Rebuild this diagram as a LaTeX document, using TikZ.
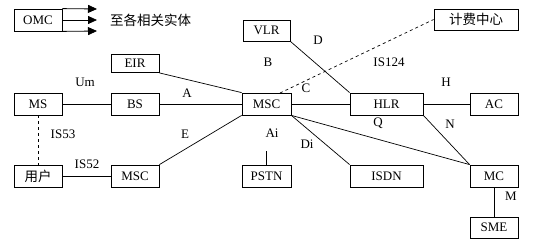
\documentclass[tikz,border=0pt]{standalone}
\usepackage{fontspec}
\setmainfont{Liberation Serif}
\newfontfamily\cjk{Noto Sans CJK SC}
\usetikzlibrary{arrows.meta,calc}
\begin{document}
\begin{tikzpicture}[x=1pt,y=-1pt,
  box/.style={draw, line width=0.8pt, inner sep=0pt, minimum width=48pt, minimum height=22pt, font=\fontsize{13}{13}\selectfont},
  wbox/.style={box, minimum width=73pt},
  conn/.style={line width=0.7pt},
  dconn/.style={line width=0.7pt, dash pattern=on 3pt off 3pt},
  arr/.style={line width=0.8pt, -{Triangle[length=9pt,width=8pt]}},
  lbl/.style={font=\fontsize{13}{13}\selectfont, inner sep=0pt}]
\useasboundingbox (0,0) rectangle (542,249);
% boxes
\node[box] (OMC) at (38,20) {OMC};
\node[box, minimum width=47pt, minimum height=21pt] (VLR) at (266.5,30.5) {VLR};
\node[box, minimum height=18pt] (EIR) at (135,63.5) {EIR};
\node[box] (MS) at (38,104) {MS};
\node[box] (BS) at (135,104) {BS};
\node[box, minimum width=49pt] (MSC) at (266.5,104) {MSC};
\node[wbox] (HLR) at (386.5,104) {HLR};
\node[box] (AC) at (494,104) {AC};
\node[box, minimum width=84pt, minimum height=21pt, font=\cjk\fontsize{13.5}{13.5}\selectfont] (JF) at (476,19.5) {计费中心};
\node[box, font=\cjk\fontsize{13.5}{13.5}\selectfont] (YH) at (38,176) {用户};
\node[box] (MSCb) at (135,176) {MSC};
\node[box, minimum width=49pt] (PSTN) at (266.5,176) {PSTN};
\node[wbox] (ISDN) at (386.5,176) {ISDN};
\node[box] (MC) at (494,176) {MC};
\node[box, minimum height=21pt] (SME) at (494,227.5) {SME};
% OMC arrows
\coordinate (t1) at (97,9);
\coordinate (t2) at (97,20);
\coordinate (t3) at (97,31);
\draw[arr] (OMC.north east) -- (t1);
\draw[arr] (OMC.east) -- (t2);
\draw[arr] (OMC.south east) -- (t3);
\node[lbl, anchor=west, font=\cjk\fontsize{13.5}{13.5}\selectfont] (dest) at (110,20) {至各相关实体};
% connectors
\draw[conn] (MS) -- (BS);
\draw[conn] (BS) -- (MSC);
\draw[conn] (EIR.south east) -- (MSC.north west);
\draw[dconn] (MS.south) -- (YH.north);
\draw[conn] (YH) -- (MSCb);
\draw[conn] (MSCb.north east) -- (MSC.south west);
\draw[conn] (VLR.south east) -- (HLR.north west);
\coordinate (dstart) at (280,93);
\draw[dconn] (dstart) -- (JF.west);
\draw[conn] (MSC) -- (HLR);
\draw[conn] (HLR) -- (AC);
\draw[conn] (HLR.south east) -- (MC.north west);
\draw[conn] (MSC.south east) -- (MC.north west);
\draw[conn] (MSC.south east) -- (ISDN.north west);
\coordinate (aitop) at (266.5,151);
\draw[conn] (PSTN.north) -- (aitop);
\draw[conn] (MC.south) -- (SME.north);
% labels
\node[lbl] (lUm) at (85,82) {Um};
\node[lbl] (lA) at (187,93) {A};
\node[lbl] (lIS53) at (63,134) {IS53};
\node[lbl] (lIS52) at (87,164) {IS52};
\node[lbl] (lE) at (185,134) {E};
\node[lbl] (lB) at (268,62) {B};
\node[lbl] (lD) at (318,40) {D};
\node[lbl] (lIS124) at (389,62) {IS124};
\node[lbl] (lC) at (306,88) {C};
\node[lbl] (lH) at (446,82) {H};
\node[lbl] (lQ) at (378,123) {Q};
\node[lbl] (lN) at (450,124) {N};
\node[lbl] (lAi) at (272,133) {Ai};
\node[lbl] (lDi) at (307,144) {Di};
\node[lbl] (lM) at (511,196) {M};
\end{tikzpicture}
\end{document}
